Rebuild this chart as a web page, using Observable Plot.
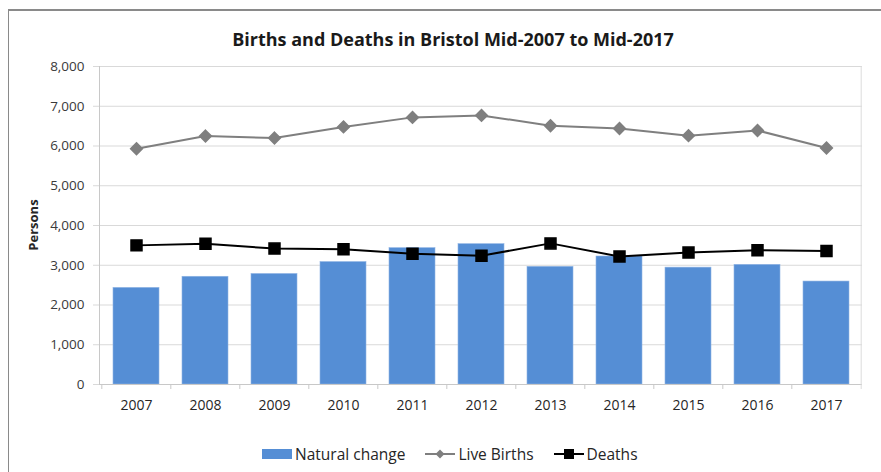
<!DOCTYPE html>
<html>
<head>
<meta charset="utf-8">
<script src="https://cdn.jsdelivr.net/npm/d3@7"></script>
<script src="https://cdn.jsdelivr.net/npm/@observablehq/plot@0.6"></script>
<style>
  html, body { margin: 0; padding: 0; background: #fff; }
  #wrap { position: relative; width: 881px; height: 472px; overflow: hidden; font-family: "Open Sans", "Noto Sans", sans-serif; }
  #border { position: absolute; left: 8px; top: 9px; width: 900px; height: 500px; border-top: 2px solid #8a8a8a; border-left: 1.5px solid #8a8a8a; }
  #chart { position: absolute; left: 0; top: 0; }
  #title { position: absolute; left: 0; width: 906px; top: 27px; text-align: center; font-size: 18px; font-weight: 700; color: #1a1a1a; }
  #ylab { position: absolute; left: 33px; top: 225px; transform: translate(-50%, -50%) rotate(-90deg); font-size: 13px; font-weight: 700; color: #262626; white-space: nowrap; }
  #legend { position: absolute; top: 443px; left: 262px; display: flex; align-items: center; font-size: 15.5px; color: #262626; white-space: nowrap; }
  .item { display: flex; align-items: center; margin-right: 20px; }
  .item svg { margin-right: 3px; }
</style>
</head>
<body>
<div id="wrap">
  <div id="border"></div>
  <div id="chart"></div>
  <div id="title">Births and Deaths in Bristol Mid-2007 to Mid-2017</div>
  <div id="ylab">Persons</div>
  <div id="legend"></div>
</div>
<script>
const years = ["2007","2008","2009","2010","2011","2012","2013","2014","2015","2016","2017"];
const naturalChange = [2430, 2710, 2780, 3080, 3430, 3530, 2960, 3220, 2940, 3010, 2590];
const liveBirths = [5930, 6250, 6200, 6480, 6720, 6770, 6510, 6440, 6260, 6390, 5950];
const deaths = [3500, 3540, 3420, 3400, 3290, 3240, 3550, 3220, 3320, 3380, 3360];
const yTicks = [0, 1000, 2000, 3000, 4000, 5000, 6000, 7000, 8000];
const seriesNames = ["Natural change", "Live Births", "Deaths"];

const colors = {bar: "#558ed5", births: "#7f7f7f", deaths: "#000000"};

const rows = years.map((y, i) => ({year: y, natural: naturalChange[i], births: liveBirths[i], deaths: deaths[i]}));

const W = 881, H = 472, mL = 99, mR = 19, mT = 66, mB = 88;
const step = (W - mL - mR) / years.length;

const chart = Plot.plot({
  width: W,
  height: H,
  marginLeft: mL,
  marginRight: mR,
  marginTop: mT,
  marginBottom: mB,
  style: {fontFamily: "'Open Sans', 'Noto Sans', sans-serif", fontSize: "13.5px", color: "#3a3a3a", background: "transparent"},
  x: {domain: years, paddingInner: 0.34, paddingOuter: 0.17, axis: null},
  y: {domain: [0, 8000], axis: null},
  marks: [
    Plot.gridY(yTicks, {stroke: "#d9d9d9", strokeOpacity: 1}),
    Plot.axisY(yTicks, {tickFormat: d3.format(","), tickSize: 6, tickPadding: 9, stroke: "#d9d9d9", fill: "#3a3a3a", fontSize: 13.5, label: null}),
    Plot.barY(rows, {x: "year", y: "natural", fill: colors.bar, stroke: "#8fb4e3", strokeWidth: 0.6}),
    Plot.ruleY([0], {stroke: "#c8c8c8"}),
    Plot.frame({anchor: "left", stroke: "#c8c8c8"}),
    Plot.ruleX([years[years.length - 1]], {dx: step / 2, stroke: "#dcdcdc", insetBottom: -5}),
    Plot.axisX(years, {tickSize: 5, text: null, dx: -step / 2, stroke: "#c8c8c8", label: null}),
    Plot.axisX(years, {tickSize: 0, tickPadding: 16, fontSize: 14, fill: "#262626", label: null}),
    Plot.line(rows, {x: "year", y: "births", stroke: colors.births, strokeWidth: 2}),
    Plot.dot(rows, {x: "year", y: "births", symbol: "diamond2", r: 5.3, fill: colors.births, stroke: colors.births}),
    Plot.line(rows, {x: "year", y: "deaths", stroke: colors.deaths, strokeWidth: 2}),
    Plot.dot(rows, {x: "year", y: "deaths", symbol: "square", r: 6.2, fill: colors.deaths, stroke: colors.deaths})
  ]
});
document.getElementById("chart").appendChild(chart);

const legend = document.getElementById("legend");
const swatches = [
  `<svg width="30" height="12"><rect x="0" y="1" width="30" height="10" fill="${colors.bar}"/></svg>`,
  `<svg width="30" height="12"><line x1="0" y1="6" x2="30" y2="6" stroke="${colors.births}" stroke-width="2"/><path d="M15,1.5 L19.5,6 L15,10.5 L10.5,6 Z" fill="${colors.births}"/></svg>`,
  `<svg width="30" height="12"><line x1="0" y1="6" x2="30" y2="6" stroke="${colors.deaths}" stroke-width="2"/><rect x="10" y="1" width="10" height="10" fill="${colors.deaths}"/></svg>`
];
seriesNames.forEach((name, i) => {
  const el = document.createElement("div");
  el.className = "item";
  el.innerHTML = swatches[i] + `<span>${name}</span>`;
  legend.appendChild(el);
});
</script>
</body>
</html>
